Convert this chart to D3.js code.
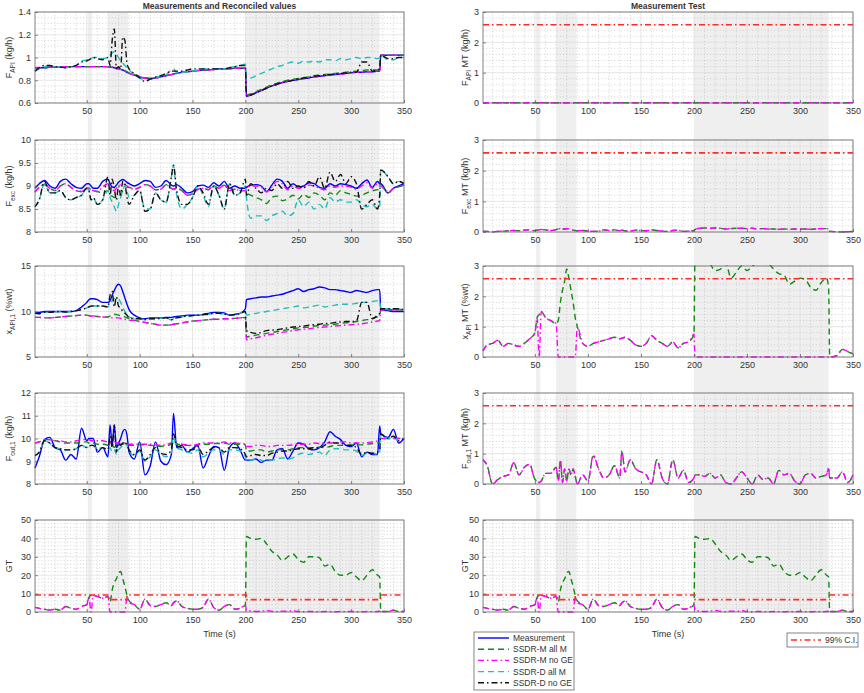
<!DOCTYPE html>
<html><head><meta charset="utf-8">
<script src="https://cdn.jsdelivr.net/npm/d3@7"></script>
<style>body{margin:0;background:#fff;} text{font-family:"Liberation Sans",Arial,Helvetica,sans-serif;fill:#333;}</style>
</head><body><svg id="c" width="864" height="693"></svg>
<script>
// ---------- DATA ----------
const T = [1,5,10,15,20,25,30,35,40,45,
  50,52,54,56,60,65,70,72,74,76,
  78,80,82,84,86,88,90,95,100,105,
  110,115,120,125,130,132,135,140,145,150,
  155,160,165,170,175,180,185,190,195,200,
  201,205,210,215,220,225,230,235,240,245,
  250,255,260,265,270,275,280,285,290,295,
  300,305,310,315,320,325,327,328,335,340,
  345,350];
const xTicks = [50,100,150,200,250,300,350];
const bands = [[51,55],[70,89],[200,327]];
const seriesNames = ["Measurement","SSDR-M all M","SSDR-M no GE","SSDR-D all M","SSDR-D no GE"];

// Panel 1: F_API
const meas1 = [0.91,0.91,0.91,0.915,0.915,0.915,0.92,0.92,0.92,0.92,
 0.92,0.92,0.92,0.92,0.92,0.92,0.92,0.915,0.915,0.91,
 0.905,0.9,0.895,0.89,0.88,0.87,0.86,0.845,0.83,0.82,
 0.815,0.82,0.83,0.84,0.85,0.855,0.86,0.87,0.875,0.88,
 0.885,0.89,0.89,0.895,0.9,0.9,0.9,0.905,0.905,0.905,
 0.66,0.67,0.69,0.71,0.73,0.75,0.765,0.78,0.79,0.80,
 0.805,0.815,0.82,0.83,0.835,0.84,0.845,0.85,0.855,0.86,
 0.865,0.87,0.87,0.875,0.875,0.88,0.88,1.02,1.02,1.02,
 1.02,1.02];
const mAll1 = [0.91,0.91,0.91,0.915,0.915,0.915,0.92,0.92,0.92,0.92,
 0.92,0.92,0.92,0.92,0.92,0.92,0.92,0.918,0.916,0.914,
 0.91,0.905,0.9,0.895,0.885,0.875,0.865,0.85,0.835,0.822,
 0.817,0.822,0.832,0.842,0.852,0.857,0.862,0.872,0.877,0.882,
 0.887,0.892,0.892,0.897,0.902,0.902,0.902,0.907,0.907,0.907,
 0.67,0.68,0.70,0.72,0.74,0.76,0.775,0.79,0.80,0.81,
 0.815,0.825,0.83,0.84,0.845,0.85,0.855,0.86,0.865,0.87,
 0.875,0.88,0.885,0.89,0.89,0.89,0.89,1.02,1.02,1.02,
 1.02,1.02];
const mNoGE1 = [0.912,0.912,0.912,0.916,0.916,0.916,0.92,0.92,0.92,0.92,
 0.92,0.92,0.92,0.92,0.92,0.92,0.92,0.915,0.915,0.91,
 0.905,0.9,0.895,0.89,0.88,0.87,0.86,0.845,0.83,0.82,
 0.815,0.82,0.83,0.84,0.85,0.855,0.86,0.87,0.875,0.88,
 0.885,0.89,0.89,0.895,0.9,0.9,0.9,0.905,0.905,0.905,
 0.66,0.67,0.69,0.71,0.73,0.75,0.765,0.78,0.79,0.80,
 0.805,0.815,0.82,0.83,0.835,0.84,0.845,0.85,0.855,0.86,
 0.865,0.87,0.87,0.875,0.875,0.88,0.88,1.02,1.02,1.02,
 1.02,1.02];
const dAll1 = [0.88,0.9,0.92,0.93,0.92,0.915,0.91,0.92,0.93,0.97,
 0.98,0.99,0.99,1.0,1.0,0.99,1.0,1.02,1.04,1.05,
 1.03,1.0,0.97,0.95,0.93,0.91,0.89,0.85,0.82,0.8,
 0.81,0.82,0.84,0.85,0.89,0.9,0.87,0.87,0.875,0.88,
 0.89,0.9,0.9,0.9,0.9,0.9,0.91,0.92,0.93,0.94,
 0.84,0.82,0.84,0.86,0.88,0.9,0.92,0.93,0.95,0.96,
 0.95,0.97,0.96,0.97,0.96,0.98,0.98,0.97,0.99,0.98,
 0.99,1.0,0.99,1.0,1.0,0.99,1.0,1.02,0.98,0.98,
 1.0,1.0];
const dNoGE1 = [0.88,0.91,0.93,0.93,0.92,0.915,0.91,0.92,0.93,0.96,
 0.97,0.98,0.99,1.0,0.99,0.98,1.0,0.93,1.15,1.25,
 0.9,0.92,0.9,1.18,1.15,0.95,0.9,0.86,0.82,0.79,
 0.81,0.83,0.84,0.86,0.88,0.88,0.88,0.88,0.89,0.9,
 0.9,0.9,0.9,0.9,0.9,0.9,0.91,0.92,0.93,0.93,
 0.66,0.67,0.69,0.71,0.73,0.75,0.765,0.78,0.79,0.80,
 0.81,0.82,0.825,0.835,0.84,0.845,0.85,0.855,0.86,0.865,
 0.87,0.87,0.96,0.96,0.88,0.89,0.9,1.02,0.99,0.99,
 1.0,1.0];

// Panel 2: F_exc
const meas2 = [8.95,9.05,9.12,9.0,8.95,9.1,9.15,9.05,8.97,8.95,
 9.05,9.05,9.0,8.95,8.95,9.1,9.15,9.05,8.98,8.97,
 9.02,9.08,9.12,9.14,9.12,9.08,9.05,9.0,9.05,9.12,
 9.1,8.97,9.0,9.12,9.02,9.0,9.03,8.95,8.85,8.88,
 9.0,9.02,8.97,9.07,9.0,9.1,8.95,9.0,8.95,8.95,
 8.97,9.02,9.03,9.0,8.88,9.02,9.15,9.1,8.95,9.05,
 8.98,9.0,9.07,9.05,8.97,8.95,9.05,9.0,9.05,9.03,
 9.0,8.95,9.05,9.13,8.97,9.1,9.05,9.05,8.85,8.95,
 9.0,9.05];
const mAll2 = [8.87,8.97,9.03,8.95,8.9,9.0,9.05,8.97,8.9,8.88,
 8.95,8.95,8.92,8.9,8.88,8.85,8.9,8.8,8.78,8.75,
 8.75,8.78,8.82,8.9,8.95,8.97,8.97,8.93,8.97,9.03,
 9.0,8.92,8.93,9.03,8.95,8.93,8.95,8.9,8.8,8.83,
 8.93,8.95,8.92,9.0,8.95,9.02,8.9,8.93,8.9,8.9,
 8.85,8.8,8.75,8.7,8.62,8.75,8.78,8.68,8.72,8.8,
 8.72,8.82,8.75,8.85,8.8,8.7,8.85,8.8,8.9,8.85,
 8.82,8.78,8.8,8.85,8.9,8.92,8.95,9.0,8.85,8.95,
 8.98,9.02];
const mNoGE2 = [8.87,8.97,9.03,8.95,8.9,9.0,9.05,8.97,8.9,8.88,
 8.95,8.95,8.92,8.9,8.88,8.98,9.05,8.97,8.92,8.9,
 8.95,9.0,9.03,9.05,9.03,9.0,8.97,8.93,8.97,9.03,
 9.0,8.92,8.93,9.03,8.95,8.93,8.95,8.9,8.8,8.83,
 8.93,8.95,8.92,9.0,8.95,9.02,8.9,8.93,8.9,8.9,
 8.95,9.0,9.0,8.97,8.87,8.98,9.1,9.05,8.92,9.0,
 8.95,8.97,9.02,9.0,8.95,8.92,9.0,8.97,9.0,9.0,
 8.97,8.93,9.0,9.07,8.95,9.05,9.0,9.0,8.85,8.95,
 8.98,9.02];
const dAll2 = [8.55,8.7,9.05,8.85,8.85,8.9,8.75,8.7,8.75,8.8,
 8.95,8.9,8.7,8.75,8.6,8.7,8.9,8.75,8.65,8.55,
 8.45,8.6,8.75,8.9,9.0,8.9,8.75,8.8,8.9,8.5,
 8.5,8.85,8.7,8.65,9.2,9.45,8.8,8.5,8.6,8.75,
 9.0,8.8,8.55,9.0,8.8,8.5,9.05,8.8,8.85,9.0,
 8.75,8.3,8.35,8.35,8.25,8.35,8.4,8.45,8.35,8.4,
 8.7,8.55,8.65,8.5,8.6,8.5,8.75,8.65,8.7,8.65,
 8.65,8.7,8.6,8.55,8.6,8.5,8.55,9.35,9.2,9.05,
 9.1,9.05];
const dNoGE2 = [8.55,8.7,9.1,8.85,8.85,8.9,8.75,8.7,8.75,8.8,
 8.95,8.9,8.7,8.75,8.6,8.7,9.2,8.8,9.15,8.95,
 8.7,9.0,8.8,9.1,9.05,8.75,8.6,8.8,8.9,8.45,
 8.5,8.85,8.7,8.65,9.2,9.45,8.9,8.6,8.6,8.75,
 9.0,8.85,8.6,9.0,8.8,8.5,9.05,8.8,8.85,9.15,
 8.8,9.05,8.95,8.85,8.95,8.9,9.05,8.95,9.1,8.95,
 9.0,8.95,9.1,9.0,9.2,8.95,9.3,9.1,9.25,9.05,
 9.2,9.05,8.5,8.6,8.7,8.5,8.8,9.35,9.2,9.05,
 9.1,9.05];

// Panel 3: x_API,1
const meas3 = [9.9,9.9,10.0,10.0,10.0,10.0,10.0,10.0,10.1,10.5,
 11.0,11.3,11.4,11.4,11.3,11.0,11.0,11.2,11.8,12.3,
 12.8,13.0,12.8,12.2,11.5,10.8,10.2,9.6,9.3,9.2,
 9.3,9.3,9.3,9.35,9.35,9.4,9.45,9.5,9.6,9.6,
 9.6,9.7,9.8,9.9,9.9,9.85,9.6,9.7,9.8,10.3,
 11.3,11.4,11.5,11.6,11.6,11.7,11.8,11.9,12.1,12.3,
 12.5,12.2,12.4,12.5,12.7,12.6,12.4,12.4,12.3,12.2,
 12.1,12.3,12.2,12.1,12.3,12.4,12.4,10.2,10.1,10.0,
 10.0,10.0];
const mAll3 = [9.35,9.35,9.3,9.3,9.35,9.4,9.45,9.5,9.55,9.6,
 9.6,9.55,9.5,9.5,9.45,9.4,9.4,9.5,9.6,9.7,
 9.65,9.6,9.55,9.5,9.4,9.3,9.2,9.05,8.9,8.8,
 8.7,8.6,8.5,8.5,8.55,8.6,8.65,8.75,8.85,8.95,
 9.0,9.05,9.1,9.15,9.15,9.2,9.2,9.25,9.3,9.35,
 7.2,7.3,7.4,7.5,7.6,7.7,7.8,7.9,8.0,8.1,
 8.2,8.25,8.3,8.4,8.45,8.5,8.55,8.6,8.7,8.75,
 8.8,8.9,9.0,9.1,9.25,9.4,9.5,10.2,10.2,10.2,
 10.2,10.2];
const mNoGE3 = [9.35,9.35,9.3,9.3,9.35,9.4,9.45,9.5,9.55,9.6,
 9.6,9.55,9.5,9.5,9.45,9.4,9.35,9.3,9.3,9.3,
 9.3,9.3,9.25,9.2,9.15,9.1,9.05,9.0,8.9,8.8,
 8.7,8.6,8.5,8.5,8.55,8.6,8.65,8.75,8.85,8.95,
 9.0,9.05,9.1,9.15,9.15,9.2,9.2,9.25,9.3,9.35,
 6.9,7.0,7.1,7.25,7.4,7.5,7.6,7.7,7.8,7.9,
 8.0,8.05,8.1,8.2,8.25,8.3,8.35,8.4,8.45,8.5,
 8.55,8.6,8.65,8.75,8.85,8.95,9.0,10.2,10.2,10.2,
 10.2,10.2];
const dAll3 = [9.8,9.75,9.9,9.9,9.95,10.0,9.95,10.0,10.1,10.2,
 10.4,10.5,10.6,10.6,10.6,10.6,10.5,10.8,11.2,11.4,
 11.5,11.4,11.0,10.5,10.0,9.7,9.4,9.25,9.2,9.1,
 9.2,9.2,9.25,9.3,9.1,9.2,9.3,9.4,9.5,9.55,
 9.6,9.65,9.7,9.8,9.8,9.7,9.6,9.65,9.8,10.0,
 9.6,9.7,9.8,9.9,10.0,10.1,10.2,10.3,10.4,10.5,
 10.6,10.4,10.5,10.6,10.7,10.5,10.6,10.7,10.8,10.8,
 10.8,10.9,11.0,11.0,11.1,11.2,11.2,10.3,10.3,10.3,
 10.3,10.2];
const dNoGE3 = [9.8,9.75,9.9,9.9,9.95,10.0,9.95,10.0,10.1,10.2,
 10.4,10.5,10.6,10.6,10.6,10.6,10.5,11.8,12.2,10.5,
 11.6,10.6,10.4,10.0,9.8,9.6,9.3,9.2,9.2,9.1,
 9.2,9.2,9.25,9.3,9.1,9.2,9.3,9.4,9.5,9.55,
 9.6,9.65,9.7,9.8,9.8,9.7,9.6,9.65,9.8,10.0,
 7.9,7.7,7.6,7.7,7.9,7.95,8.0,8.1,8.2,8.3,
 8.35,8.4,8.5,8.55,8.6,8.7,8.7,8.8,8.85,8.9,
 8.9,8.95,11.0,11.0,9.2,9.6,9.8,10.3,10.3,10.3,
 10.3,10.2];

// Panel 4: F_out,1
const meas4 = [8.7,9.2,9.95,10.05,9.6,9.5,9.05,9.3,9.1,10.45,
 9.9,10.0,10.0,10.0,9.4,9.6,9.2,10.6,9.7,10.6,
 9.6,9.8,10.0,10.3,10.4,10.15,9.4,9.1,9.85,8.4,
 8.8,9.85,9.0,8.85,9.3,11.1,9.6,9.7,9.4,9.55,
 9.7,8.7,9.2,9.65,9.6,8.6,9.6,9.8,9.5,9.05,
 9.05,9.05,9.1,8.95,9.05,9.05,9.5,9.55,9.1,9.45,
 9.8,9.75,9.55,9.5,9.6,9.85,10.3,10.1,9.95,9.7,
 9.65,9.8,9.2,9.4,9.3,9.3,10.55,10.2,10.05,10.4,
 9.8,10.0];
const mAll4 = [9.8,9.85,9.95,9.95,9.9,9.85,9.8,9.8,9.8,9.85,
 9.85,9.8,9.75,9.8,9.75,9.75,9.7,9.65,9.7,9.6,
 9.7,9.65,9.75,9.75,9.8,9.75,9.7,9.7,9.72,9.72,
 9.7,9.68,9.66,9.68,9.75,9.9,9.75,9.72,9.7,9.68,
 9.72,9.75,9.75,9.78,9.78,9.8,9.75,9.75,9.75,9.72,
 9.45,9.45,9.5,9.5,9.4,9.45,9.5,9.52,9.5,9.55,
 9.6,9.6,9.6,9.6,9.62,9.6,9.65,9.7,9.7,9.7,
 9.72,9.72,9.72,9.75,9.78,9.8,9.85,10.0,10.0,10.0,
 10.0,10.0];
const mNoGE4 = [9.8,9.85,9.95,9.95,9.9,9.9,9.85,9.85,9.9,9.95,
 9.95,9.95,9.9,9.9,9.9,9.9,9.85,9.85,9.85,9.85,
 9.8,9.8,9.8,9.8,9.8,9.8,9.75,9.75,9.75,9.75,
 9.75,9.72,9.7,9.72,9.8,9.8,9.78,9.75,9.72,9.7,
 9.75,9.8,9.8,9.8,9.8,9.85,9.8,9.8,9.78,9.75,
 9.65,9.65,9.7,9.7,9.65,9.65,9.7,9.7,9.7,9.72,
 9.75,9.75,9.75,9.8,9.78,9.8,9.8,9.8,9.85,9.85,
 9.8,9.8,9.8,9.82,9.85,9.9,9.95,10.0,10.0,10.0,
 10.0,10.0];
const dAll4 = [9.25,9.4,9.9,9.8,9.6,9.55,9.5,9.5,9.55,9.7,
 9.6,9.65,9.7,9.7,9.5,9.6,9.5,9.6,9.4,9.5,
 9.3,9.5,9.6,9.7,9.8,9.7,9.45,9.25,9.45,9.0,
 9.2,9.5,9.3,9.2,9.4,10.1,9.6,9.5,9.4,9.35,
 9.5,9.2,9.35,9.5,9.5,9.3,9.5,9.5,9.45,9.2,
 9.0,9.05,9.1,9.05,9.0,9.05,9.1,9.15,9.1,9.15,
 9.3,9.35,9.3,9.35,9.4,9.25,9.5,9.55,9.55,9.5,
 9.5,9.45,9.25,9.35,9.35,9.3,9.4,10.1,10.0,10.1,
 9.9,10.0];
const dNoGE4 = [9.25,9.4,9.9,9.8,9.6,9.55,9.5,9.5,9.55,9.7,
 9.6,9.65,9.7,9.7,9.5,9.6,9.5,10.1,9.6,10.6,
 9.4,9.8,9.7,9.8,9.85,9.7,9.5,9.3,9.5,9.05,
 9.3,9.6,9.35,9.3,9.5,10.2,9.7,9.6,9.5,9.5,
 9.65,9.3,9.45,9.6,9.6,9.4,9.6,9.6,9.55,9.3,
 9.2,9.25,9.3,9.25,9.25,9.35,9.4,9.45,9.45,9.5,
 9.55,9.55,9.55,9.6,9.6,9.7,9.85,9.8,9.8,9.7,
 9.7,9.6,9.3,9.4,9.35,9.4,9.5,10.2,10.0,10.1,
 9.9,10.0];

// Panel 5: GT (same in both columns)
const gtAll = [2.5,2.0,1.5,1.0,1.5,1.0,3.0,2.0,1.5,3.0,
 4.0,8.0,9.0,9.0,8.5,7.5,8.5,5.5,12,16,
 18,21,22,18,14,9,6,4,1.5,7,
 3.5,3,4,5,3.5,5,6,3,2,1.5,
 1.5,2.5,7,2.5,1,3,4,1.5,2,4,
 41,40,39.5,40,37,33,31,28,30,31.5,
 28.5,27,30,30,29.5,25,26,22,20,20,
 21.5,19,17,20,23,20,19,0.3,0.3,1.0,
 0.3,0.3];
const gtNoGE = [2.5,2.0,1.5,1.0,1.5,1.0,3.0,2.0,1.5,3.0,
 4.0,8.0,0,9.0,8.5,7.5,8.5,0,0,0,
 0,0,0,0,0,8,5,4,1.5,7,
 3.5,3,4,5,3.5,5,6,3,2,1.5,
 1.5,2.5,7,2.5,1,3,4,1.5,2,4,
 0.8,0.6,0.3,0.5,0.8,0.4,0.2,0.5,0.3,0.8,
 0.2,0.1,0.3,0.2,0.1,0.3,0.2,0.1,0.3,0.2,
 0.3,0.2,0.1,0.3,0.2,0.3,0.5,0.3,0.3,1.0,
 0.3,0.3];
const ciGTt = [1,71,71,88,88,201,201,328,328,350];
const ciGT = [9.2,9.2,6.7,6.7,9.2,9.2,6.7,6.7,9.2,9.2];

// Right column: measurement tests
const ciMTt = [1,350];
const ciMT = [2.58,2.58];
const flatT = [1,100,200,300,350];
const mtApiAll = [0.01,0.01,0.01,0.01,0.01];
const mtApiNoGE = [0.01,0.01,0.01,0.01,0.01];
const mtExcAll = [0.03,0.02,0.0,0.02,0.03,0.04,0.05,0.04,0.06,0.07,
 0.04,0.06,0.07,0.08,0.07,0.05,0.08,0.1,0.11,0.1,
 0.1,0.11,0.1,0.08,0.06,0.05,0.04,0.05,0.03,0.02,
 0.03,0.07,0.05,0.07,0.04,0.06,0.04,0.03,0.06,0.05,
 0.04,0.07,0.05,0.03,0.02,0.05,0.06,0.02,0.03,0.05,
 0.08,0.12,0.13,0.12,0.13,0.12,0.1,0.11,0.12,0.12,
 0.11,0.12,0.1,0.11,0.1,0.1,0.09,0.1,0.09,0.1,
 0.1,0.1,0.09,0.1,0.11,0.11,0.1,0.02,0.01,0.0,
 0.01,0.02];
const mtExcNoGE = [0.03,0.02,0.0,0.02,0.03,0.04,0.05,0.04,0.06,0.07,
 0.04,0.06,0.07,0.08,0.07,0.05,0.08,0.1,0.11,0.1,
 0.1,0.11,0.1,0.08,0.06,0.05,0.04,0.05,0.03,0.02,
 0.03,0.07,0.05,0.07,0.04,0.06,0.04,0.03,0.06,0.05,
 0.04,0.07,0.05,0.03,0.02,0.05,0.06,0.02,0.03,0.05,
 0.08,0.12,0.13,0.12,0.13,0.12,0.1,0.11,0.12,0.12,
 0.11,0.12,0.1,0.11,0.1,0.1,0.09,0.1,0.09,0.1,
 0.1,0.1,0.09,0.1,0.11,0.11,0.1,0.02,0.01,0.0,
 0.01,0.02];
const mtXAll = [0.2,0.4,0.45,0.55,0.35,0.45,0.4,0.35,0.45,0.6,
 0.8,1.3,1.4,1.5,1.3,1.2,1.1,1.2,1.8,2.2,
 2.5,2.9,2.6,2.2,1.8,1.3,1.0,0.45,0.35,0.45,
 0.5,0.55,0.6,0.65,0.6,0.62,0.65,0.55,0.4,0.35,
 0.45,0.7,0.55,0.45,0.35,0.5,0.3,0.45,0.5,0.75,
 3.5,3.2,3.4,3.1,2.85,2.9,3.1,2.6,2.8,3.0,
 2.85,3.0,3.1,3.2,3.1,2.9,2.75,2.7,2.4,2.5,
 2.6,2.55,2.3,2.2,2.45,2.6,2.3,0,0.05,0.25,
 0.18,0.1];
const mtXNoGE = [0.2,0.4,0.45,0.55,0.35,0.45,0.4,0.35,0.45,0.6,
 0.8,1.3,0,1.5,1.3,1.2,1.1,0,0,0,
 0,0,0,0,0,0,1.0,0.45,0.35,0.45,
 0.5,0.55,0.6,0.65,0.6,0.62,0.65,0.55,0.4,0.35,
 0.45,0.7,0.55,0.45,0.35,0.5,0.3,0.45,0.5,0.75,
 0,0,0,0,0,0,0,0,0,0,
 0,0,0,0,0,0,0,0,0,0,
 0,0,0,0,0,0,0,0,0.05,0.25,
 0.18,0.1];
const mtOutAll = [0.8,0.6,0.0,0.15,0.25,0.3,0.7,0.3,0.55,0.65,
 0.15,0.1,0.05,0.1,0.35,0.35,0.55,0.1,0.78,0.05,
 0.5,0.1,0.5,0.3,0.5,0.25,0.0,0.3,0.1,0.92,
 0.5,0.2,0.3,0.6,0.2,1.05,0.4,0.8,0.5,0.4,
 0.3,0.0,0.8,0.2,0.0,0.8,0.2,0.45,0.05,0.2,
 0.3,0.3,0.25,0.35,0.2,0.3,0.05,0.0,0.2,0.4,
 0.2,0.0,0.3,0.15,0.2,0.0,0.45,0.3,0.35,0.1,
 0.0,0.3,0.35,0.2,0.25,0.3,0.5,0.2,0.2,0.4,
 0.05,0.3];
const mtOutNoGE = [0.8,0.6,0.0,0.15,0.25,0.3,0.7,0.3,0.55,0.65,
 0.15,0.1,0.05,0.1,0.35,0.35,0.55,0.1,0.8,0.05,
 0.5,0.1,0.5,0.3,0.5,0.25,0.0,0.3,0.1,0.95,
 0.5,0.2,0.3,0.6,0.2,1.1,0.4,0.8,0.5,0.4,
 0.3,0.0,0.8,0.2,0.0,0.8,0.2,0.45,0.05,0.2,
 0.3,0.3,0.25,0.35,0.2,0.3,0.05,0.0,0.2,0.4,
 0.2,0.0,0.3,0.15,0.2,0.0,0.45,0.3,0.35,0.1,
 0.0,0.3,0.35,0.2,0.25,0.3,0.55,0.2,0.2,0.4,
 0.05,0.3];

// ---------- STYLE / LAYOUT ----------
const STY = {
  meas:{c:"#0000ff",d:null},
  mAll:{c:"#118a11",d:"6,4"},
  mNoGE:{c:"#ff00ff",d:"6,3,1.5,3"},
  dAll:{c:"#1fbfbf",d:"6,4"},
  dNoGE:{c:"#111",d:"6,3,1.5,3"},
  ci:{c:"#ff2a2a",d:"6,3,1.5,3",w:1.6,step:true}
};
const svg = d3.select("#c");
const cols = [{x0:35,x1:404},{x0:483,x1:853}];
const rows = [[12,103],[140,232],[266,357],[393,484],[520,612]];
const xDom = [1,350];

cols.forEach(c=>{
  const x = d3.scaleLinear().domain(xDom).range([c.x0,c.x1]);
  bands.forEach(b=>svg.append("rect").attr("x",x(b[0])).attr("y",rows[0][0])
    .attr("width",x(b[1])-x(b[0])).attr("height",rows[4][1]-rows[0][0]).attr("fill","#efefef"));
});

let clipId=0;
function panel(ci, ri, cfg){
  const c=cols[ci], r=rows[ri];
  const x=d3.scaleLinear().domain(xDom).range([c.x0,c.x1]);
  const y=d3.scaleLinear().domain(cfg.dom).range([r[1],r[0]]);
  const g=svg.append("g");
  const mx=d3.range(10,350,10).filter(v=>v%50!==0);
  g.selectAll(null).data(mx).enter().append("line")
    .attr("x1",d=>x(d)).attr("x2",d=>x(d)).attr("y1",r[0]).attr("y2",r[1])
    .attr("stroke","#b5b5b5").attr("stroke-width",0.6).attr("stroke-dasharray","1,2.2");
  const my=d3.range(cfg.dom[0],cfg.dom[1]+1e-9,cfg.minor).filter(v=>!cfg.ticks.some(t=>Math.abs(t-v)<1e-6));
  g.selectAll(null).data(my).enter().append("line")
    .attr("x1",c.x0).attr("x2",c.x1).attr("y1",d=>y(d)).attr("y2",d=>y(d))
    .attr("stroke","#b5b5b5").attr("stroke-width",0.6).attr("stroke-dasharray","1,2.2");
  g.selectAll(null).data(xTicks).enter().append("line")
    .attr("x1",d=>x(d)).attr("x2",d=>x(d)).attr("y1",r[0]).attr("y2",r[1])
    .attr("stroke","#dcdcdc").attr("stroke-width",0.7);
  g.selectAll(null).data(cfg.ticks).enter().append("line")
    .attr("x1",c.x0).attr("x2",c.x1).attr("y1",d=>y(d)).attr("y2",d=>y(d))
    .attr("stroke","#dcdcdc").attr("stroke-width",0.7);
  const id="cl"+(clipId++);
  svg.append("clipPath").attr("id",id).append("rect")
    .attr("x",c.x0-1).attr("y",r[0]-1).attr("width",c.x1-c.x0+2).attr("height",r[1]-r[0]+2);
  const lg=svg.append("g").attr("clip-path",`url(#${id})`);
  cfg.series.forEach(s=>{
    const st=STY[s.k];
    const line=d3.line().x((d,i)=>x(s.t[i])).y(d=>y(d)).curve(st.step?d3.curveLinear:d3.curveMonotoneX);
    lg.append("path").attr("d",line(s.v)).attr("fill","none")
      .attr("stroke",st.c).attr("stroke-width",st.w||1.4)
      .attr("stroke-dasharray",st.d).attr("stroke-linejoin","round");
  });
  const ax=svg.append("g").attr("transform",`translate(0,${r[1]})`)
    .call(d3.axisBottom(x).tickValues(xTicks).tickSize(-3).tickPadding(5).tickFormat(d3.format("d")));
  const ay=svg.append("g").attr("transform",`translate(${c.x0},0)`)
    .call(d3.axisLeft(y).tickValues(cfg.ticks).tickSize(-3).tickPadding(4).tickFormat((d,i)=>cfg.labels[i]));
  [ax,ay].forEach(a=>{a.select(".domain").remove();
    a.selectAll("line").attr("stroke","#555").attr("stroke-width",0.7);
    a.selectAll("text").attr("font-size",9).attr("fill","#444").attr("font-family","Liberation Sans, Arial, sans-serif");});
  svg.append("rect").attr("x",c.x0).attr("y",r[0]).attr("width",c.x1-c.x0).attr("height",r[1]-r[0])
    .attr("fill","none").attr("stroke","#666").attr("stroke-width",0.8);
  const lx = ci===0 ? 12 : 468;
  const t=svg.append("text").attr("transform",`translate(${lx},${(r[0]+r[1])/2}) rotate(-90)`)
    .attr("text-anchor","middle").attr("font-size",9).attr("fill","#333");
  cfg.ylab.forEach(p=>{
    const ts=t.append("tspan").text(p[0]);
    if(p[1]==="sub") ts.attr("font-size",6.5).attr("dy",2.5);
    else if(p[2]) ts.attr("dy",-2.5);
  });
  if(ri===4){
    svg.append("text").attr("x",(c.x0+c.x1)/2).attr("y",r[1]+25).attr("text-anchor","middle")
      .attr("font-size",9).attr("fill","#333").text("Time (s)");
  }
}

const S = (k,v,t)=>({k:k,v:v,t:t||T});
const leftCfg = [
 {dom:[0.6,1.4],ticks:[0.6,0.8,1,1.2,1.4],labels:["0.6","0.8","1","1.2","1.4"],minor:0.05,
  ylab:[["F"],["API","sub"],[" (kg/h)",0,1]],
  series:[S("meas",meas1),S("mAll",mAll1),S("mNoGE",mNoGE1),S("dAll",dAll1),S("dNoGE",dNoGE1)]},
 {dom:[8,10],ticks:[8,8.5,9,9.5,10],labels:["8","8.5","9","9.5","10"],minor:0.1,
  ylab:[["F"],["exc","sub"],[" (kg/h)",0,1]],
  series:[S("meas",meas2),S("mAll",mAll2),S("mNoGE",mNoGE2),S("dAll",dAll2),S("dNoGE",dNoGE2)]},
 {dom:[5,15],ticks:[5,10,15],labels:["5","10","15"],minor:1,
  ylab:[["x"],["API,1","sub"],[" (%wt)",0,1]],
  series:[S("meas",meas3),S("mAll",mAll3),S("mNoGE",mNoGE3),S("dAll",dAll3),S("dNoGE",dNoGE3)]},
 {dom:[8,12],ticks:[8,9,10,11,12],labels:["8","9","10","11","12"],minor:0.2,
  ylab:[["F"],["out,1","sub"],[" (kg/h)",0,1]],
  series:[S("meas",meas4),S("mAll",mAll4),S("mNoGE",mNoGE4),S("dAll",dAll4),S("dNoGE",dNoGE4)]},
 {dom:[0,50],ticks:[0,10,20,30,40,50],labels:["0","10","20","30","40","50"],minor:2,
  ylab:[["GT"]],
  series:[S("mAll",gtAll),S("mNoGE",gtNoGE),S("ci",ciGT,ciGTt)]}
];
const rightCfg = [
 {dom:[0,3],ticks:[0,1,2,3],labels:["0","1","2","3"],minor:0.2,
  ylab:[["F"],["API","sub"],[" MT (kg/h)",0,1]],
  series:[S("mAll",mtApiAll,flatT),S("mNoGE",mtApiNoGE,flatT),S("ci",ciMT,ciMTt)]},
 {dom:[0,3],ticks:[0,1,2,3],labels:["0","1","2","3"],minor:0.2,
  ylab:[["F"],["exc","sub"],[" MT (kg/h)",0,1]],
  series:[S("mAll",mtExcAll),S("mNoGE",mtExcNoGE),S("ci",ciMT,ciMTt)]},
 {dom:[0,3],ticks:[0,1,2,3],labels:["0","1","2","3"],minor:0.2,
  ylab:[["x"],["API","sub"],[" MT (%wt)",0,1]],
  series:[S("mAll",mtXAll),S("mNoGE",mtXNoGE),S("ci",ciMT,ciMTt)]},
 {dom:[0,3],ticks:[0,1,2,3],labels:["0","1","2","3"],minor:0.2,
  ylab:[["F"],["out,1","sub"],[" MT (kg/h)",0,1]],
  series:[S("mAll",mtOutAll),S("mNoGE",mtOutNoGE),S("ci",ciMT,ciMTt)]},
 {dom:[0,50],ticks:[0,10,20,30,40,50],labels:["0","10","20","30","40","50"],minor:2,
  ylab:[["GT"]],
  series:[S("mAll",gtAll),S("mNoGE",gtNoGE),S("ci",ciGT,ciGTt)]}
];
leftCfg.forEach((cfg,i)=>panel(0,i,cfg));
rightCfg.forEach((cfg,i)=>panel(1,i,cfg));

svg.append("text").attr("x",(cols[0].x0+cols[0].x1)/2).attr("y",9).attr("text-anchor","middle")
  .attr("font-size",8.5).attr("font-weight","bold").attr("fill","#222").text("Measurements and Reconciled values");
svg.append("text").attr("x",(cols[1].x0+cols[1].x1)/2).attr("y",9).attr("text-anchor","middle")
  .attr("font-size",8.5).attr("font-weight","bold").attr("fill","#222").text("Measurement Test");

const keys=["meas","mAll","mNoGE","dAll","dNoGE"];
const lgd=svg.append("g");
lgd.append("rect").attr("x",474).attr("y",632).attr("width",100).attr("height",58)
  .attr("fill","#fff").attr("stroke","#666").attr("stroke-width",0.8);
keys.forEach((k,i)=>{
  const yy=638+i*11.2;
  lgd.append("line").attr("x1",478).attr("x2",509).attr("y1",yy).attr("y2",yy)
    .attr("stroke",STY[k].c).attr("stroke-width",1.4).attr("stroke-dasharray",STY[k].d);
  lgd.append("text").attr("x",513).attr("y",yy+3).attr("font-size",8.5).attr("fill","#222").text(seriesNames[i]);
});
const lg2=svg.append("g");
lg2.append("rect").attr("x",787).attr("y",633).attr("width",71).attr("height",14)
  .attr("fill","#fff").attr("stroke","#666").attr("stroke-width",0.8);
lg2.append("line").attr("x1",791).attr("x2",821).attr("y1",640).attr("y2",640)
  .attr("stroke",STY.ci.c).attr("stroke-width",1.6).attr("stroke-dasharray",STY.ci.d);
lg2.append("text").attr("x",825).attr("y",643).attr("font-size",8.5).attr("fill","#222").text("99% C.I.");
</script>
</body></html>
